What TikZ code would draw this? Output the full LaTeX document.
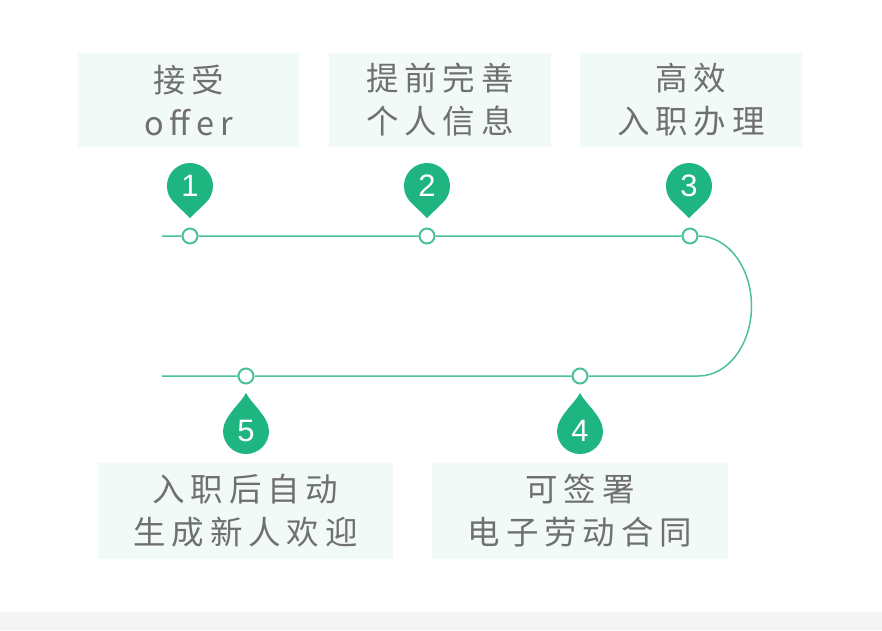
\documentclass[tikz,border=0pt]{standalone}
\usepackage{xcolor}
\usepackage{fontspec}
\usepackage{tikz}
\newfontfamily\cjk[LetterSpace=18]{Noto Sans CJK SC}
\newfontfamily\digits{Liberation Sans}
\definecolor{pingreen}{HTML}{1FB580}
\definecolor{linegreen}{HTML}{4CC099}
\definecolor{boxfill}{HTML}{F2FAF7}
\definecolor{textgray}{HTML}{707070}
\definecolor{bandgray}{HTML}{F4F4F4}

\begin{document}
\begin{tikzpicture}[x=1pt,y=-1pt,
  stepbox/.style={fill=boxfill, text=textgray, inner sep=0pt, align=center, font=\cjk\fontsize{32.5}{43}\selectfont},
  dot/.style={circle, draw=linegreen, line width=2pt, fill=white, minimum size=15pt, inner sep=0pt},
  num/.style={text=white, inner sep=0pt, font=\digits\fontsize{31}{31}\selectfont},
  pinup/.pic={\fill[pingreen] (0,32) -- (46:23) arc[start angle=46, end angle=-226, radius=23] -- cycle;},
  dropup/.pic={\fill[pingreen] (0,-38) .. controls (5,-28) and (23,-14) .. (23,0) arc[start angle=0, end angle=180, radius=23] .. controls (-23,-14) and (-5,-28) .. (0,-38) -- cycle;}]
\useasboundingbox (0,0) rectangle (882,630);
\fill[bandgray] (0,612) rectangle (882,630);
\node[stepbox, minimum width=221pt, minimum height=94pt] (box1) at (188.5,100) {接受\\offer};
\node[stepbox, minimum width=222pt, minimum height=94pt] (box2) at (440,100) {提前完善\\个人信息};
\node[stepbox, minimum width=222pt, minimum height=94pt] (box3) at (691,100) {高效\\入职办理};
\node[stepbox, minimum width=296pt, minimum height=96pt] (box4) at (580,511) {可签署\\电子劳动合同};
\node[stepbox, minimum width=295pt, minimum height=96pt] (box5) at (245.5,511) {入职后自动\\生成新人欢迎};
\node[dot] (dot1) at (190,236) {};
\node[dot] (dot2) at (427,236) {};
\node[dot] (dot3) at (690,236) {};
\node[dot] (dot4) at (580,376) {};
\node[dot] (dot5) at (246,376) {};
\coordinate [] (startT) at (162,236);
\coordinate [] (endB) at (162,376);
\draw[linegreen, line width=1.5pt] (startT) -- (dot1) -- (dot2) -- (dot3) (dot3.east) arc[start angle=-90, end angle=90, x radius=53, y radius=70] -- (dot4) -- (dot5) -- (endB);
\pic (pin1) at (190,186) {pinup};
\pic (pin2) at (427,186) {pinup};
\pic (pin3) at (689,186) {pinup};
\pic (pin4) at (580,431) {dropup};
\pic (pin5) at (246,431) {dropup};
\node[num] (num1) at (190,186) {1};
\node[num] (num2) at (427,186) {2};
\node[num] (num3) at (689,186) {3};
\node[num] (num4) at (580,431) {4};
\node[num] (num5) at (246,431) {5};
\end{tikzpicture}
\end{document}
